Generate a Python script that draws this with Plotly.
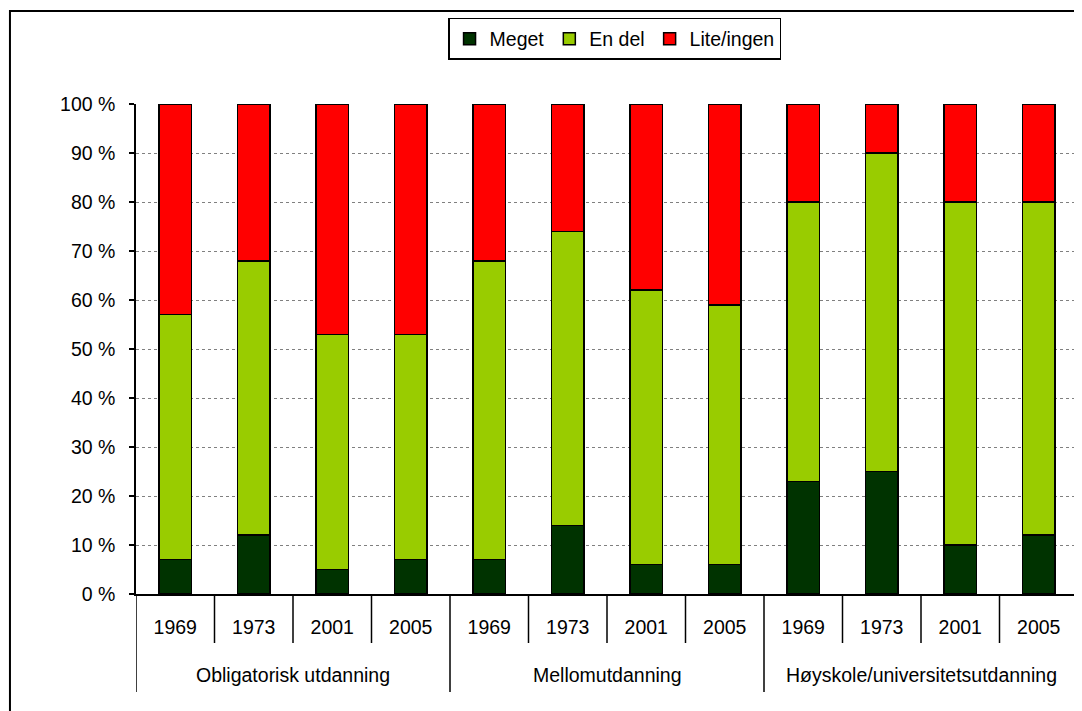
import plotly.graph_objects as go

groups = ["Obligatorisk utdanning", "Mellomutdanning", "Høyskole/universitetsutdanning"]
years = ["1969", "1973", "2001", "2005"]
meget = [7, 12, 5, 7, 7, 14, 6, 6, 23, 25, 10, 12]
en_del = [50, 56, 48, 46, 61, 60, 56, 53, 57, 65, 70, 68]
lite = [43, 32, 47, 47, 32, 26, 38, 41, 20, 10, 20, 20]
tick_vals = [0, 10, 20, 30, 40, 50, 60, 70, 80, 90, 100]
tick_text = [f"{v} %" for v in tick_vals]

cats = [f"{g} {y}" for g in groups for y in years]
cat_years = [y for g in groups for y in years]

series = [("Meget", meget, "#003300"), ("En del", en_del, "#99CC00"), ("Lite/ingen", lite, "#FF0000")]

FONT = "Liberation Sans, Arial, sans-serif"
FS = 19.5

fig = go.Figure()
for name, vals, col in series:
    fig.add_trace(go.Bar(
        x=cats, y=vals, name=name,
        marker=dict(color=col, line=dict(color="black", width=1.5)),
    ))

n_per = len(years)
n_all = len(cats)
shapes = []
# outer frame
shapes.append(dict(type="rect", xref="paper", yref="paper",
                   x0=-0.1338, x1=1.06, y0=-0.32, y1=1.19,
                   line=dict(color="black", width=2), layer="below"))
# category dividers
for i in range(n_all + 1):
    is_group = (i % n_per == 0)
    shapes.append(dict(type="line", xref="x", yref="paper",
                       x0=i - 0.5, x1=i - 0.5, y0=0,
                       y1=-0.2 if is_group else -0.1,
                       line=dict(color="black", width=1.5)))

annotations = []
for gi, g in enumerate(groups):
    annotations.append(dict(text=g, xref="x", yref="paper",
                            x=gi * n_per + (n_per - 1) / 2, y=-0.1653,
                            xanchor="center", yanchor="middle", showarrow=False,
                            font=dict(family=FONT, size=FS, color="black")))

fig.update_layout(
    barmode="stack",
    bargap=0.58,
    width=1082, height=711,
    margin=dict(l=128, r=12, t=96, b=125),
    paper_bgcolor="white", plot_bgcolor="white",
    font=dict(family=FONT, size=FS, color="black"),
    legend=dict(
        orientation="h", xref="container", yref="container",
        x=0.4067, xanchor="left", y=0.986, yanchor="top",
        bordercolor="black", borderwidth=1.5, font=dict(size=FS),
        traceorder="normal", itemwidth=30,
    ),
    showlegend=True,
    shapes=shapes,
    annotations=annotations,
)
fig.update_yaxes(
    range=[0, 100], tickvals=tick_vals, ticktext=tick_text,
    showgrid=True, gridcolor="#808080", griddash="dot", gridwidth=1,
    showline=True, linecolor="black", linewidth=1.5,
    ticks="outside", ticklen=5, tickcolor="black", tickwidth=1.5,
    ticklabelstandoff=10,
    zeroline=False, automargin=False,
)
fig.update_xaxes(
    type="category", range=[-0.5, n_all - 0.5],
    tickvals=cats, ticktext=cat_years,
    showline=True, linecolor="black", linewidth=1.5,
    ticks="", ticklabelstandoff=15,
    automargin=False,
)

fig.write_html("out.html")
